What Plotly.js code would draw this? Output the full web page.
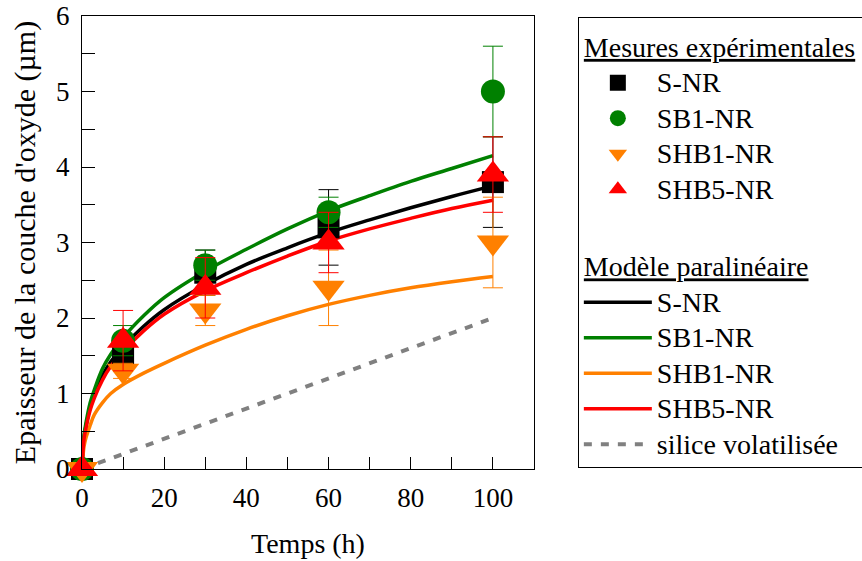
<!DOCTYPE html>
<html>
<head>
<meta charset="utf-8">
<script src="https://cdn.plot.ly/plotly-3.0.1.min.js"></script>
<style>html,body{margin:0;padding:0;background:#fff;}#chart{width:862px;height:561px;}</style>
</head>
<body>
<div id="chart"></div>
<script>
// Measurement times (h)
const measTimes = [0, 10, 30, 60, 100];
// Measured oxide thickness (µm) and error bars
const sNR      = [0, 1.5, 2.6, 3.2, 3.8];
const sNRErr   = [0, 0.2, 0.3, 0.5, 0.6];
const sb1NR    = [0, 1.7, 2.7, 3.4, 5.0];
const sb1NRErr = [0, 0.2, 0.2, 0.2, 0.6];
const shb1NR   = [0, 1.3, 2.1, 2.4, 3.0];
const shb1NRErr= [0, 0.1, 0.2, 0.5, 0.6];
const shb5NR   = [0, 1.7, 2.4, 3.0, 3.9];
const shb5NRErr= [0, 0.4, 0.4, 0.4, 0.5];

// Paralinear model curves
const modelTimes = [0, 0.5, 1, 2, 3, 5, 7, 10, 15, 20, 30, 40, 50, 60, 70, 80, 90, 100];
const modelSNR   = [0, 0.42, 0.58, 0.82, 0.98, 1.24, 1.42, 1.62, 1.89, 2.11, 2.44, 2.71, 2.93, 3.13, 3.30, 3.46, 3.61, 3.75];
const modelSB1   = [0, 0.45, 0.62, 0.88, 1.05, 1.33, 1.52, 1.74, 2.03, 2.27, 2.62, 2.91, 3.18, 3.42, 3.62, 3.81, 3.98, 4.15];
const modelSHB1  = [0, 0.30, 0.42, 0.58, 0.72, 0.88, 1.00, 1.12, 1.27, 1.40, 1.64, 1.85, 2.03, 2.18, 2.30, 2.40, 2.48, 2.55];
const modelSHB5  = [0, 0.40, 0.55, 0.78, 0.94, 1.18, 1.36, 1.56, 1.83, 2.05, 2.36, 2.60, 2.82, 3.02, 3.18, 3.32, 3.45, 3.56];
const silicaTimes = [0, 100];
const silicaVals  = [0, 2.0];

const names = ['S-NR', 'SB1-NR', 'SHB1-NR', 'SHB5-NR'];
const legendTitles = ['Mesures expérimentales', 'Modèle paralinéaire', 'silice volatilisée'];

const FONT = "'Liberation Serif', 'Times New Roman', serif";
const colors = ['#000000', '#008000', '#ff8000', '#ff0000'];
const symbols = ['square', 'circle', 'triangle-down', 'triangle-up'];
const sizes = [22, 24, 28, 28];
const measVals = [sNR, sb1NR, shb1NR, shb5NR];
const measErrs = [sNRErr, sb1NRErr, shb1NRErr, shb5NRErr];
const modelVals = [modelSNR, modelSB1, modelSHB1, modelSHB5];

const item = s => '<span style="font-size:28px">' + s + '</span>';
const head = s => '<span style="font-size:28px;text-decoration:underline">' + s + '</span>';

const traces = [];
// model lines first (drawn underneath)
for (let i = 0; i < 4; i++) {
  traces.push({
    x: modelTimes, y: modelVals[i], type: 'scatter', mode: 'lines',
    name: item(names[i]), legendgroup: 'model', legendrank: 10 + i,
    legendgrouptitle: {text: head(legendTitles[1]), font: {family: FONT, size: 25, color: '#000'}},
    line: {color: colors[i], width: 3.5, shape: 'spline', smoothing: 1},
    hoverinfo: 'skip'
  });
}
traces.push({
  x: silicaTimes, y: silicaVals, type: 'scatter', mode: 'lines',
  name: item(legendTitles[2]), legendgroup: 'model', legendrank: 14,
  line: {color: '#808080', width: 4, dash: '8px,9px'},
  hoverinfo: 'skip'
});
// measured points
for (let i = 0; i < 4; i++) {
  traces.push({
    x: measTimes, y: measVals[i], type: 'scatter', mode: 'markers',
    name: item(names[i]), legendgroup: 'meas', legendrank: 1 + i,
    legendgrouptitle: {text: head(legendTitles[0]), font: {family: FONT, size: 25, color: '#000'}},
    marker: {symbol: symbols[i], size: sizes[i], color: colors[i], line: {width: 0}},
    error_y: {type: 'data', array: measErrs[i], visible: true, color: colors[i], thickness: 1, width: 10},
    cliponaxis: false
  });
}

const layout = {
  width: 862, height: 561,
  margin: {l: 82, r: 328, t: 16, b: 92, pad: 0, autoexpand: false},
  paper_bgcolor: '#fff', plot_bgcolor: '#fff',
  font: {family: FONT, size: 27, color: '#000'},
  showlegend: true,
  legend: {
    x: 1.097, xanchor: 'left', y: 0.998, yanchor: 'top',
    bordercolor: '#000', borderwidth: 1, bgcolor: '#fff',
    font: {family: FONT, size: 25, color: '#000'},
    title: {text: '&nbsp;', font: {family: FONT, size: 5, color: '#fff'}},
    traceorder: 'grouped', tracegroupgap: 42, itemwidth: 68
  },
  xaxis: {
    range: [0, 110], tick0: 0, dtick: 20, ticks: 'inside', ticklen: 12, tickwidth: 1, tickcolor: '#000',
    minor: {dtick: 10, ticks: 'inside', ticklen: 12, tickwidth: 1, tickcolor: '#000'},
    showline: true, linecolor: '#000', linewidth: 1, mirror: true,
    showgrid: false, zeroline: false, ticklabelstandoff: 5,
    tickfont: {family: FONT, size: 27, color: '#000'},
    title: {text: 'Temps (h)', font: {family: FONT, size: 28, color: '#000'}, standoff: 20}
  },
  yaxis: {
    range: [0, 6], tick0: 0, dtick: 1, ticks: 'inside', ticklen: 13, tickwidth: 1, tickcolor: '#000',
    minor: {dtick: 0.5, ticks: 'inside', ticklen: 13, tickwidth: 1, tickcolor: '#000'},
    showline: true, linecolor: '#000', linewidth: 1, mirror: true,
    showgrid: false, zeroline: false, ticklabelstandoff: 6,
    tickfont: {family: FONT, size: 27, color: '#000'},
    title: {text: "Epaisseur de la couche d'oxyde (µm)", font: {family: FONT, size: 30, color: '#000'}, standoff: 11}
  }
};

Plotly.newPlot('chart', traces, layout, {staticPlot: true, displayModeBar: false});
</script>
</body>
</html>
